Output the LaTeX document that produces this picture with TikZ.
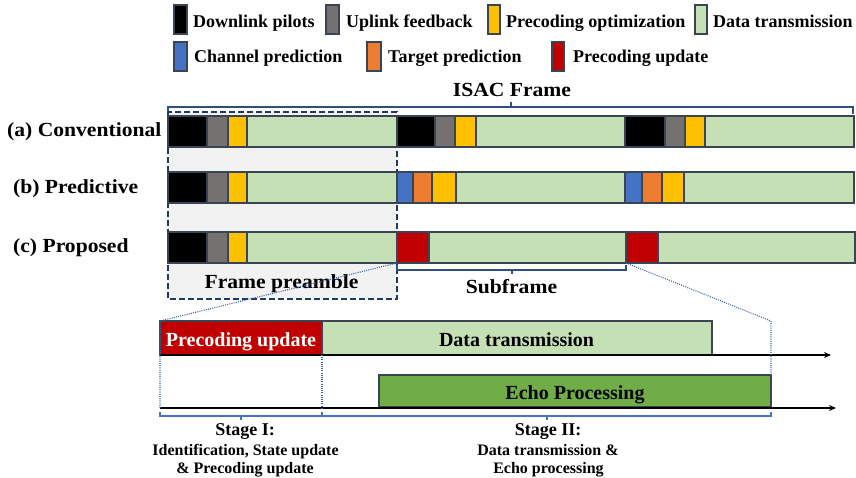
\documentclass[tikz,border=0pt]{standalone}
\usepackage{fontspec}
\setmainfont{Liberation Serif}
\newfontfamily\lblfont{Liberation Serif}[FakeStretch=1.08]
\usetikzlibrary{arrows.meta}
\definecolor{cBlk}{HTML}{000000}
\definecolor{cGry}{HTML}{767171}
\definecolor{cYel}{HTML}{FFC000}
\definecolor{cLgr}{HTML}{C5E0B4}
\definecolor{cBlu}{HTML}{4472C4}
\definecolor{cOrg}{HTML}{ED7D31}
\definecolor{cRed}{HTML}{C00000}
\definecolor{cDgr}{HTML}{70AD47}
\definecolor{cEdge}{HTML}{3B4453}
\definecolor{cNavy}{HTML}{1F3864}
\definecolor{cBrace}{HTML}{2F4F7F}
\definecolor{cPre}{HTML}{F2F2F2}
\definecolor{cZoom}{HTML}{3A62B0}
\newcommand{\sg}[6]{\node[segbox,fill=#6,minimum width={#3pt-#2pt},minimum height={#5pt-#4pt}] (#1) at (#2,#4) {};}
\begin{document}
\begin{tikzpicture}[x=1pt,y=-1pt,
  segbox/.style={draw=cEdge,line width=1.4pt,inner sep=0pt,outer sep=0pt,anchor=north west},
  legtxt/.style={anchor=base west,inner sep=0pt,font=\fontsize{18}{20}\selectfont\bfseries},
  rowlbl/.style={anchor=base west,inner sep=0pt,font=\lblfont\fontsize{20}{22}\selectfont\bfseries},
  bigtxt/.style={anchor=base,inner sep=0pt,font=\lblfont\fontsize{20}{22}\selectfont\bfseries},
  boxtxt/.style={anchor=base,inner sep=0pt,font=\fontsize{20}{22}\selectfont\bfseries},
  stagehead/.style={anchor=base,inner sep=0pt,font=\fontsize{18}{20}\selectfont\bfseries},
  stagetxt/.style={anchor=base,inner sep=0pt,font=\fontsize{16}{18}\selectfont\bfseries},
  brace/.style={draw=cBrace,line width=1.2pt},
  sbrace/.style={draw=cBlu,line width=1.2pt},
  zoomline/.style={draw=cZoom,line width=1.1pt,dash pattern=on 1pt off 1.2pt},
  timeaxis/.style={draw=black,line width=1.6pt,-{Stealth[length=7pt,width=6pt]}}]
\useasboundingbox (0,0) rectangle (856,478);

% legend
\sg{k1}{174}{187}{5}{34}{cBlk}
\node[legtxt] (t1) at (193,27.5) {Downlink pilots};
\sg{k2}{326}{339}{5}{34}{cGry}
\node[legtxt] (t2) at (346,27.5) {Uplink feedback};
\sg{k3}{488}{500}{5}{34}{cYel}
\node[legtxt] (t3) at (506,27.5) {Precoding optimization};
\sg{k4}{695}{707}{5}{34}{cLgr}
\node[legtxt] (t4) at (713,27.5) {Data transmission};
\sg{k5}{174}{187}{42}{71}{cBlu}
\node[legtxt] (t5) at (194,63) {Channel prediction};
\sg{k6}{367}{381}{42}{71}{cOrg}
\node[legtxt] (t6) at (388,63) {Target prediction};
\sg{k7}{552}{564}{42}{71}{cRed}
\node[legtxt] (t7) at (573,63) {Precoding update};

% ISAC frame brace
\coordinate (fL) at (168,114);
\coordinate (fR) at (853,114);
\draw[brace] (fL) -- (168,107) -- (853,107) -- (fR);
\draw[brace] (511,107) -- (511,102);
\node[bigtxt] (isac) at (512,97) {ISAC Frame};

% frame preamble box
\fill[cPre] (168,112) rectangle (397,299);
\draw[draw=cNavy,line width=2pt,dash pattern=on 6pt off 3pt] (168,112) rectangle (397,299);
\node[bigtxt] (fp) at (281.5,288) {Frame preamble};

% row labels
\node[rowlbl] (la) at (7,137) {(a) Conventional};
\node[rowlbl] (lb) at (13,194) {(b) Predictive};
\node[rowlbl] (lc) at (13,252) {(c) Proposed};

% row a
\sg{a1}{168}{207}{116}{147}{cBlk}
\sg{a2}{207}{228}{116}{147}{cGry}
\sg{a3}{228}{247}{116}{147}{cYel}
\sg{a4}{247}{397}{116}{147}{cLgr}
\sg{a5}{397}{435}{116}{147}{cBlk}
\sg{a6}{435}{455}{116}{147}{cGry}
\sg{a7}{455}{476}{116}{147}{cYel}
\sg{a8}{476}{625}{116}{147}{cLgr}
\sg{a9}{625}{665}{116}{147}{cBlk}
\sg{a10}{665}{685}{116}{147}{cGry}
\sg{a11}{685}{705}{116}{147}{cYel}
\sg{a12}{705}{854}{116}{147}{cLgr}
% row b
\sg{b1}{168}{207}{172}{203}{cBlk}
\sg{b2}{207}{228}{172}{203}{cGry}
\sg{b3}{228}{247}{172}{203}{cYel}
\sg{b4}{247}{397}{172}{203}{cLgr}
\sg{b5}{397}{413}{172}{203}{cBlu}
\sg{b6}{413}{432}{172}{203}{cOrg}
\sg{b7}{432}{456}{172}{203}{cYel}
\sg{b8}{456}{625}{172}{203}{cLgr}
\sg{b9}{625}{642}{172}{203}{cBlu}
\sg{b10}{642}{662}{172}{203}{cOrg}
\sg{b11}{662}{684}{172}{203}{cYel}
\sg{b12}{684}{854}{172}{203}{cLgr}
% row c
\sg{c1}{168}{207}{232}{263}{cBlk}
\sg{c2}{207}{228}{232}{263}{cGry}
\sg{c3}{228}{247}{232}{263}{cYel}
\sg{c4}{247}{397}{232}{263}{cLgr}
\sg{c5}{397}{429}{232}{263}{cRed}
\sg{c6}{429}{626}{232}{263}{cLgr}
\sg{c7}{626}{658}{232}{263}{cRed}
\sg{c8}{658}{855}{232}{263}{cLgr}

% subframe brace
\draw[brace] (c5.south west) ++(0,2) -- (397,270) -- (626,270) -- (626,265);
\draw[brace] (512,270) -- (512,274);
\node[bigtxt] (sf) at (511.5,293) {Subframe};

% zoomed subframe
\sg{pu}{160}{322}{321}{355}{cRed}
\node[boxtxt,text=white] (put) at (241,346) {Precoding update};
\sg{dt}{322}{712}{321}{355}{cLgr}
\node[boxtxt] (dtt) at (516.5,346) {Data transmission};
\sg{ep}{379}{771}{375}{407}{cDgr}
\node[boxtxt] (ept) at (575,399) {Echo Processing};

\coordinate (ax1e) at (831,355);
\coordinate (ax2e) at (836,408);
\draw[timeaxis] (pu.south west) -- (ax1e);
\draw[timeaxis] (160,408) -- (ax2e);

% dotted zoom lines
\coordinate (zl) at (160,408);
\coordinate (zr) at (771,375);
\coordinate (zm) at (322,408);
\draw[zoomline] (c5.south west) -- (pu.north west) -- (zl);
\draw[zoomline] (c7.south west) -- (ep.north east |- pu.north east) -- (zr);
\draw[zoomline] (pu.south east) -- (zm);

% stage braces
\draw[sbrace] (160,412) -- (160,416) -- (322,416) -- (322,412);
\draw[sbrace] (241,416) -- (241,420);
\draw[sbrace] (322,416) -- (771,416) -- (771,412);
\draw[sbrace] (547,416) -- (547,420);

\node[stagehead] (s1) at (245,435) {Stage I:};
\node[stagetxt] (s1a) at (245.5,455) {Identification, State update};
\node[stagetxt] (s1b) at (245,473) {\& Precoding update};
\node[stagehead] (s2) at (548,435) {Stage II:};
\node[stagetxt] (s2a) at (548,455) {Data transmission \&};
\node[stagetxt] (s2b) at (548.5,473) {Echo processing};
\end{tikzpicture}
\end{document}
